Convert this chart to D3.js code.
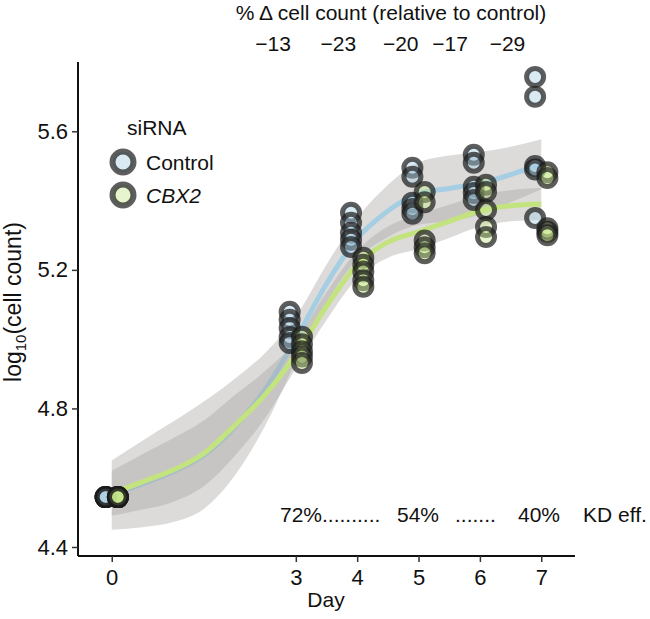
<!DOCTYPE html>
<html><head><meta charset="utf-8">
<script src="https://cdn.jsdelivr.net/npm/d3@7"></script>
<style>
body{margin:0;background:#fff}
text{font-family:"Liberation Sans",Arial,Helvetica,sans-serif;fill:#111}
</style>
</head><body>
<svg id="chart" width="650" height="619"></svg>
<script>
// ---------- data ----------
const groups = ["Control", "CBX2"];
const days = [0, 3, 4, 5, 6, 7];
const controlValues = [
  [4.544, 4.544, 4.544, 4.544, 4.544],
  [5.079, 5.056, 5.032, 5.006, 4.989],
  [5.365, 5.336, 5.307, 5.287, 5.266],
  [5.495, 5.469, 5.394, 5.376, 5.362],
  [5.532, 5.509, 5.440, 5.422, 5.402],
  [5.757, 5.700, 5.500, 5.490, 5.350]
];
const cbx2Values = [
  [4.544, 4.544, 4.544, 4.544, 4.544],
  [5.007, 4.985, 4.965, 4.950, 4.931],
  [5.235, 5.215, 5.195, 5.170, 5.151],
  [5.425, 5.395, 5.285, 5.265, 5.248],
  [5.446, 5.425, 5.373, 5.324, 5.295],
  [5.482, 5.465, 5.320, 5.310, 5.300]
];
// smoothed fit and half-width of confidence band
const fitDays    = [0, 0.5, 1, 1.5, 2, 2.5, 3, 3.5, 4, 4.5, 5, 5.5, 6, 6.5, 7];
const controlFit = [4.550, 4.582, 4.617, 4.665, 4.745, 4.855, 5.000, 5.160, 5.290, 5.370, 5.420, 5.435, 5.450, 5.475, 5.505];
const controlHalf= [0.100, 0.125, 0.145, 0.155, 0.140, 0.105, 0.065, 0.055, 0.060, 0.075, 0.090, 0.095, 0.090, 0.080, 0.072];
const cbx2Fit    = [4.555, 4.588, 4.622, 4.670, 4.750, 4.840, 4.955, 5.095, 5.215, 5.280, 5.310, 5.340, 5.370, 5.385, 5.390];
const cbx2Half   = [0.065, 0.080, 0.092, 0.095, 0.088, 0.068, 0.040, 0.040, 0.040, 0.045, 0.050, 0.048, 0.045, 0.045, 0.046];
const yTicks = [4.4, 4.8, 5.2, 5.6];
const xTicks = [0, 3, 4, 5, 6, 7];
const pctTitle = "% \u0394 cell count (relative to control)";
const pctLabels = ["\u221213", "\u221223", "\u221220", "\u221217", "\u221229"];
const pctDays = [3, 4, 5, 6, 7];
const kdParts = ["72%..........", "54%", ".......", "40%", "KD eff."];

// ---------- layout ----------
const svg = d3.select("#chart");
const x = d3.scaleLinear().domain([-0.55, 7.55]).range([78, 575]);
const y = d3.scaleLinear().domain([4.374, 5.80]).range([556, 62]);
const dodge = {Control: -0.1, CBX2: 0.1};
const lineCol = {Control: "#a6cee3", CBX2: "#c3e37f"};
const fillCol = {Control: "#a6cee3", CBX2: "#c5e68a"};
const FONT = 21;

// ---------- smooth bands and lines ----------
const fits = [
  {g: "Control", fit: controlFit, half: controlHalf},
  {g: "CBX2", fit: cbx2Fit, half: cbx2Half}
];
const area = d3.area().curve(d3.curveMonotoneX)
  .x(d => x(d.d)).y0(d => y(d.f - d.h)).y1(d => y(d.f + d.h));
const line = d3.line().curve(d3.curveMonotoneX).x(d => x(d.d)).y(d => y(d.f));
fits.forEach(s => {
  const pts = fitDays.map((d, i) => ({d, f: s.fit[i], h: s.half[i]}));
  svg.append("path").attr("d", area(pts)).attr("fill", "#a8a4a2").attr("fill-opacity", 0.4);
  svg.append("path").attr("d", line(pts)).attr("fill", "none")
    .attr("stroke", lineCol[s.g]).attr("stroke-width", 5);
});

// ---------- points ----------
const pointSets = [{g: "Control", vals: controlValues}, {g: "CBX2", vals: cbx2Values}];
pointSets.forEach(s => {
  const pts = [];
  days.forEach((d, i) => s.vals[i].forEach(v => pts.push({d, v})));
  svg.append("g").selectAll("circle").data(pts).join("circle")
    .attr("cx", p => x(p.d + dodge[s.g])).attr("cy", p => y(p.v)).attr("r", 8.5)
    .attr("fill", fillCol[s.g]).attr("fill-opacity", 0.42)
    .attr("stroke", "#1a1a1a").attr("stroke-opacity", 0.7).attr("stroke-width", 5);
});

// ---------- axes ----------
const gx = svg.append("g").attr("transform", "translate(0,556)")
  .call(d3.axisBottom(x).tickValues(xTicks).tickFormat(d3.format("d")).tickSize(6).tickSizeOuter(0));
const gy = svg.append("g").attr("transform", "translate(78,0)")
  .call(d3.axisLeft(y).tickValues(yTicks).tickFormat(d3.format(".1f")).tickSize(6).tickSizeOuter(0));
[gx, gy].forEach(g => {
  g.select(".domain").attr("stroke", "#111").attr("stroke-width", 2);
  g.selectAll(".tick line").attr("stroke", "#333").attr("stroke-width", 1.5);
  g.selectAll(".tick text").attr("font-size", 22).attr("fill", "#111")
    .attr("font-family", "Liberation Sans, Arial, sans-serif");
});
gx.select(".domain").attr("d", "M78,0H575");
gy.select(".domain").attr("d", "M0,62V556");
gx.selectAll(".tick text").attr("dy", "0.9em");
gy.selectAll(".tick text").attr("x", -10);

svg.append("text").attr("x", 326).attr("y", 607).attr("text-anchor", "middle")
  .attr("font-size", FONT).text("Day");
const yl = svg.append("text").attr("transform", "translate(21,302) rotate(-90)")
  .attr("text-anchor", "middle").attr("font-size", 23);
yl.append("tspan").text("log");
yl.append("tspan").attr("font-size", 15).attr("dy", 5).text("10");
yl.append("tspan").attr("dy", -5).text("(cell count)");

// ---------- top annotation ----------
const pctOffset = [-5, -1, 0, -12, -16];
svg.append("text").attr("x", 391).attr("y", 20).attr("text-anchor", "middle")
  .attr("font-size", FONT).text(pctTitle);
svg.append("g").selectAll("text").data(pctDays).join("text")
  .attr("x", (d, i) => x(d) + pctOffset[i]).attr("y", 51).attr("text-anchor", "end")
  .attr("font-size", FONT).text((d, i) => pctLabels[i]);

// ---------- KD annotation ----------
const kdX = [280, 397, 455, 518, 583];
const kd = svg.append("text").attr("y", 522).attr("font-size", FONT);
kdParts.forEach((t, i) => kd.append("tspan").attr("x", kdX[i]).text(t));

// ---------- legend ----------
svg.append("text").attr("x", 127).attr("y", 135).attr("font-size", FONT).text("siRNA");
groups.forEach((g, i) => {
  const cy = 162 + i * 33;
  svg.append("circle").attr("cx", 123).attr("cy", cy).attr("r", 10.5)
    .attr("fill", fillCol[g]).attr("fill-opacity", 0.42)
    .attr("stroke", "#1a1a1a").attr("stroke-opacity", 0.7).attr("stroke-width", 6);
  svg.append("text").attr("x", 146).attr("y", cy + 8).attr("font-size", FONT)
    .attr("font-style", g === "CBX2" ? "italic" : "normal").text(g);
});
</script>
</body></html>
